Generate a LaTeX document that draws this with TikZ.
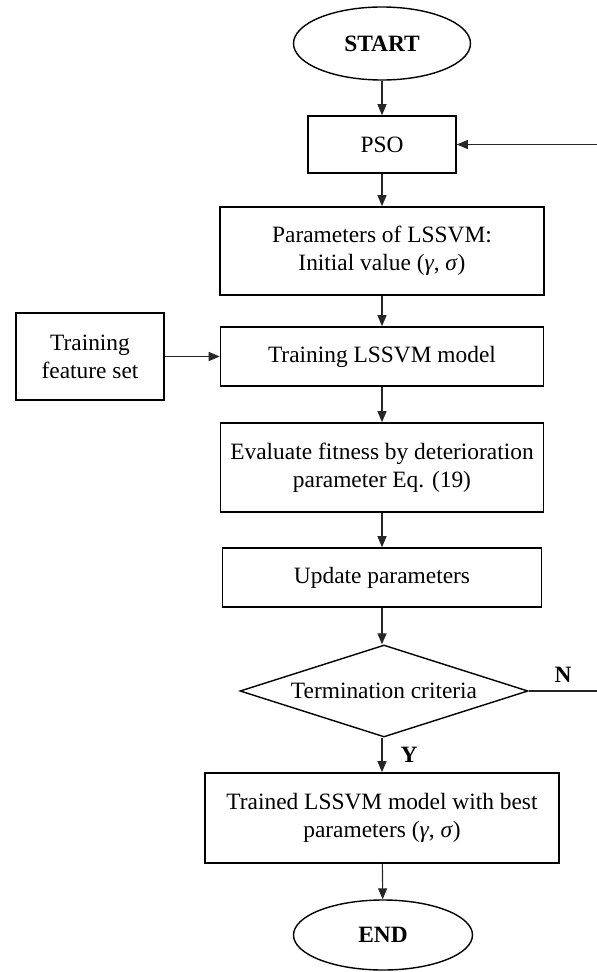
\documentclass[tikz,border=0pt]{standalone}
\usepackage{fontspec}
\setmainfont{Liberation Serif}
\usetikzlibrary{shapes.geometric,arrows.meta}

\tikzset{
  base/.style={draw=black, line width=1.6pt, inner sep=0pt, align=center,
    font=\fontsize{23.4}{28}\selectfont},
  terminal/.style={base, ellipse, line width=1.4pt, font=\fontsize{23.4}{28}\selectfont\bfseries},
  procbox/.style={base, rectangle},
  decision/.style={base, diamond, aspect=3.13, line width=1.4pt},
  flow/.style={draw=black!85, line width=1.1pt, -{Triangle[length=11pt,width=9pt]}},
  plainline/.style={draw=black!85, line width=1.1pt},
  branch/.style={font=\fontsize{23.4}{28}\selectfont\bfseries, inner sep=0pt}
}

\newcommand{\gam}{\textit{γ}}
\newcommand{\sig}{\textit{σ}}

\begin{document}
\begin{tikzpicture}[x=1pt, y=-1pt]
  \useasboundingbox (0,0) rectangle (597,972);

  % main column
  \node[terminal, minimum width=177pt, minimum height=73pt] (start) at (382,43.5) {START};
  \node[procbox, minimum width=148pt, minimum height=57pt] (pso) at (382,144.5) {PSO};
  \node[procbox, minimum width=324pt, minimum height=88pt] (params) at (382,251)
    {Parameters of LSSVM:\\ Initial value (\gam, \sig)};
  \node[procbox, minimum width=323pt, minimum height=59pt] (train) at (382,356.5)
    {Training LSSVM model};
  \node[procbox, minimum width=323pt, minimum height=89pt] (eval) at (382,467.5)
    {Evaluate fitness by deterioration\\ parameter Eq. (19)};
  \node[procbox, minimum width=319pt, minimum height=59pt] (upd) at (382,577.5)
    {Update parameters};
  \node[decision, minimum width=288pt, minimum height=92pt] (term) at (384,691)
    {Termination criteria};
  \node[procbox, minimum width=354pt, minimum height=90pt] (trained) at (382,818)
    {Trained LSSVM model with best\\ parameters (\gam, \sig)};
  \node[terminal, minimum width=179pt, minimum height=70pt] (end) at (383,935) {END};

  % side input
  \node[procbox, minimum width=148pt, minimum height=87pt] (feat) at (90,356.5)
    {Training\\ feature set};

  % loop-back ends at the right border
  \coordinate (nout) at (597,691);
  \coordinate (back) at (597,144.5);

  % connectors
  \draw[flow] (start) -- (pso);
  \draw[flow] (pso) -- (params);
  \draw[flow] (params) -- (train);
  \draw[flow] (train) -- (eval);
  \draw[flow] (eval) -- (upd);
  \draw[flow] (upd.south) -- (upd.south |- term.north);
  \draw[flow] (term.south -| trained.north) -- (trained.north);
  \draw[flow] (trained) -- (end);
  \draw[flow] (feat) -- (train);
  \draw[plainline] (term.east) -- (nout);
  \draw[flow] (back) -- (pso.east);

  % branch labels
  \node[branch] (lblN) at (563,675) {N};
  \node[branch] (lblY) at (409,755) {Y};
\end{tikzpicture}
\end{document}
